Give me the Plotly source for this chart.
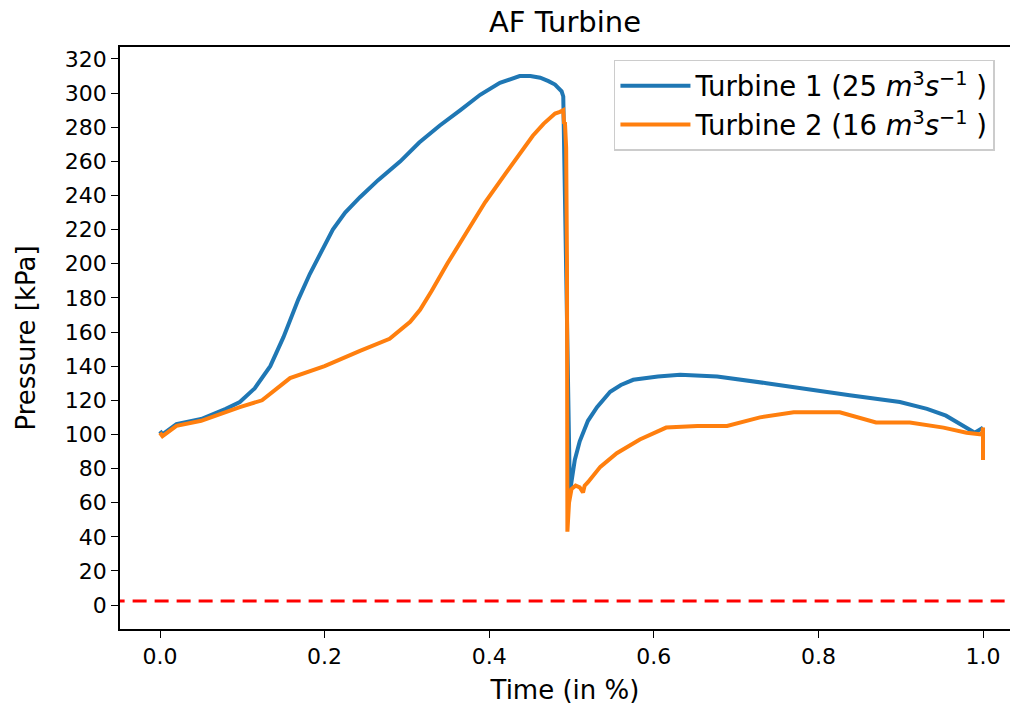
import plotly.graph_objects as go

# Turbine 1 (25 m3/s)
t1 = [0, 0.003, 0.02, 0.05, 0.08, 0.097, 0.115, 0.134, 0.150, 0.168, 0.182, 0.197, 0.210,
      0.225, 0.243, 0.265, 0.292, 0.315, 0.340, 0.365, 0.389, 0.413, 0.425, 0.437, 0.450,
      0.462, 0.472, 0.480, 0.488, 0.490, 0.492, 0.495, 0.498, 0.504, 0.510, 0.520, 0.531,
      0.547, 0.560, 0.575, 0.605, 0.632, 0.677, 0.737, 0.778, 0.838, 0.899, 0.932, 0.955,
      0.972, 0.990, 1.0]
p1 = [102, 100, 106, 109, 115, 119, 127, 140, 157, 179, 194, 208, 220,
      230, 239, 249, 260, 271, 281, 290, 299, 306, 308, 310, 310,
      309, 307, 305, 301, 298, 240, 150, 66, 85, 96, 108, 116,
      125, 129, 132, 134, 135, 134, 130, 127, 123, 119, 115, 111,
      106, 101, 104]

# Turbine 2 (16 m3/s)
t2 = [0, 0.003, 0.02, 0.05, 0.097, 0.124, 0.158, 0.200, 0.243, 0.279, 0.304, 0.316, 0.330,
      0.349, 0.372, 0.395, 0.420, 0.437, 0.453, 0.466, 0.480, 0.486, 0.490, 0.491, 0.492,
      0.4935, 0.4945, 0.4950, 0.497, 0.500, 0.505, 0.510, 0.514, 0.516, 0.520, 0.535, 0.555,
      0.583, 0.615, 0.653, 0.689, 0.729, 0.770, 0.826, 0.850, 0.870, 0.911, 0.952, 0.980,
      0.995, 0.999, 1.0, 1.0]
p2 = [101, 99, 105, 108, 116, 120, 133, 140, 149, 156, 166, 173, 184,
      200, 218, 236, 253, 264, 275, 282, 288, 289, 290, 282, 283,
      268, 200, 43, 60, 68, 70, 69, 66, 70, 72, 81, 89,
      97, 104, 105, 105, 110, 113, 113, 110, 107, 107, 104, 101,
      100, 100, 104, 85]

vapor_pressure = 2.34
x_ticks = [0.0, 0.2, 0.4, 0.6, 0.8, 1.0]
y_ticks = list(range(0, 321, 20))

fig = go.Figure()
fig.add_trace(go.Scatter(x=t1, y=p1, mode="lines", line=dict(color="#1f77b4", width=4),
                         name="Turbine 1 (25 <i>m</i><sup>3</sup><i>s</i><sup>\u22121</sup> )"))
fig.add_trace(go.Scatter(x=t2, y=p2, mode="lines", line=dict(color="#ff7f0e", width=4),
                         name="Turbine 2 (16 <i>m</i><sup>3</sup><i>s</i><sup>\u22121</sup> )"))
fig.add_trace(go.Scatter(x=[-0.06, 1.05], y=[vapor_pressure, vapor_pressure], mode="lines",
                         line=dict(color="red", width=3, dash="14px,8px"), showlegend=False))

fig.update_layout(
    width=1010, height=708,
    margin=dict(l=120, r=0, t=47, b=79),
    paper_bgcolor="white", plot_bgcolor="white",
    font=dict(family="DejaVu Sans", size=22, color="black"),
    title=dict(text="AF Turbine", x=(120 + 1010) / 2 / 1010, xanchor="center",
               y=1 - 22 / 708, yanchor="middle", font=dict(size=29)),
    legend=dict(x=0.555, y=0.978, xanchor="left", yanchor="top",
                bordercolor="#cccccc", borderwidth=1.5, bgcolor="rgba(255,255,255,0.8)",
                font=dict(size=27.5), itemwidth=70),
    showlegend=True,
)
fig.update_xaxes(range=[-0.0486, 1.0328], tickvals=x_ticks, tickformat=".1f",
                 showgrid=False, zeroline=False, showline=True, linecolor="black", linewidth=1.5,
                 mirror=True, ticks="outside", ticklen=7, tickwidth=1.3, tickcolor="black",
                 title=dict(text="Time (in %)", standoff=13))
fig.update_yaxes(range=[-14, 327], tickvals=y_ticks,
                 showgrid=False, zeroline=False, showline=True, linecolor="black", linewidth=1.5,
                 mirror=False, ticks="outside", ticklen=7, tickwidth=1.3, tickcolor="black",
                 title=dict(text="Pressure [kPa]", standoff=22))

fig.write_html("out.html", config={"displayModeBar": False},
               post_script="document.body.style.margin='0px';document.body.style.overflow='hidden';")
